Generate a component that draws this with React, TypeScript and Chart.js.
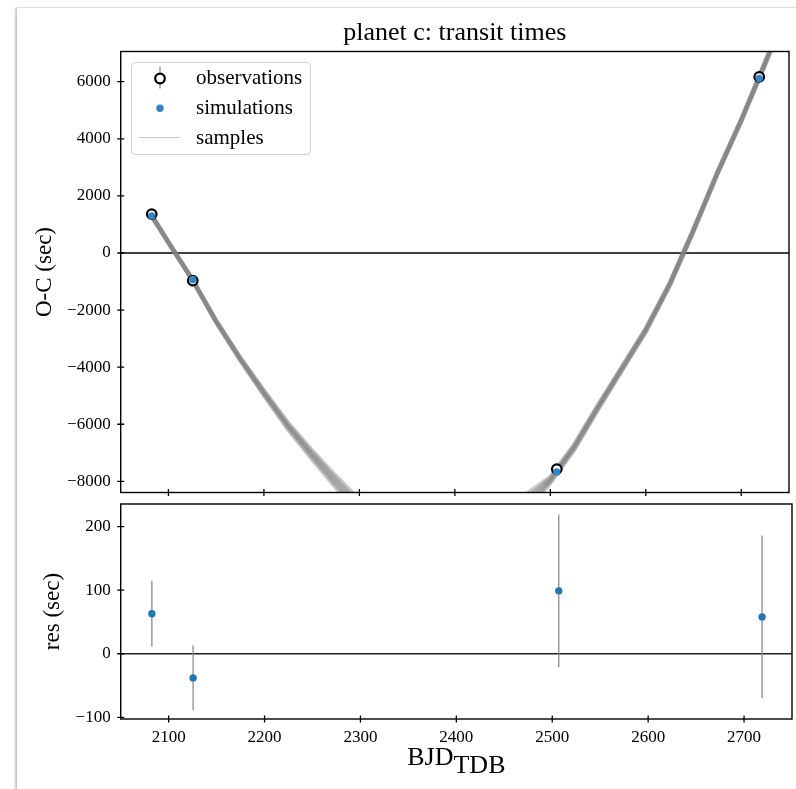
import React, { useEffect, useRef } from 'react';
import { Chart, registerables } from 'chart.js';

Chart.register(...registerables);

// ---- data ----
const TRANSIT_T = [2082.5, 2125.5, 2506.8, 2718.8];
const OBS_OC = [1363, -968, -7571, 6168];
const SIM_OC = [1300, -930, -7670, 6110];
const RESID = [63, -38, 99, 58];
const ERR = [52, 51, 120, 128];

const SAMPLE_T = [2082, 2100, 2125, 2150, 2175, 2200, 2225, 2250, 2275, 2300, 2325, 2350, 2375, 2400, 2425, 2450, 2475, 2500, 2525, 2550, 2575, 2600, 2625, 2650, 2675, 2700, 2725, 2750];
const SAMPLE_1 = [1330, 370, -930, -2400, -3700, -4900, -6050, -7050, -8000, -8900, -9700, -10400, -10900, -11100, -10800, -9900, -8750, -7950, -6800, -5400, -4050, -2700, -1100, 800, 2800, 4650, 6650, 8700];
const SAMPLE_2 = [1350, 385, -920, -2370, -3650, -4820, -5940, -6900, -7800, -8650, -9400, -10100, -10600, -10800, -10500, -9600, -8450, -7850, -6710, -5320, -3980, -2640, -1050, 840, 2840, 4690, 6700, 8760];
const SAMPLE_3 = [1310, 355, -940, -2430, -3750, -4980, -6160, -7200, -8200, -9150, -10000, -10700, -11200, -11400, -11100, -10200, -9050, -8050, -6890, -5480, -4120, -2760, -1150, 760, 2760, 4610, 6600, 8640];
const SAMPLE_4 = [1340, 378, -925, -2385, -3675, -4860, -5995, -6975, -7900, -8775, -9550, -10250, -10750, -10950, -10650, -9750, -8600, -7900, -6755, -5360, -4015, -2670, -1075, 820, 2820, 4670, 6675, 8730];
const SAMPLE_5 = [1320, 362, -935, -2415, -3725, -4940, -6105, -7125, -8100, -9025, -9850, -10550, -11050, -11250, -10950, -10050, -8900, -8000, -6845, -5440, -4085, -2730, -1125, 780, 2780, 4630, 6625, 8670];
const SAMPLES = [SAMPLE_1, SAMPLE_2, SAMPLE_3, SAMPLE_4, SAMPLE_5];

const X_TICKS = [2100, 2200, 2300, 2400, 2500, 2600, 2700];
const OC_TICKS = [-8000, -6000, -4000, -2000, 0, 2000, 4000, 6000];
const RES_TICKS = [-100, 0, 100, 200];

const X_MIN = 2050;
const X_MAX = 2750;
const OC_MIN = -8390;
const OC_MAX = 7058;
const RES_MIN = -102.7;
const RES_MAX = 235.7;

const TITLE = 'planet c: transit times';
const LEGEND_LABELS = ['observations', 'simulations', 'samples'];

// ---- styling ----
const FONT = "'Liberation Serif', 'Times New Roman', serif";
const BLUE = '#1f77b4';
const BLUE_TOP = '#3384c4';
const ERR_COLOR = '#8c8c8c';
const AXIS_LEFT = 120.7;
const PAD_RIGHT = 3.7;

const fmt = (v: number) => (v < 0 ? '\u2212' + Math.abs(v) : String(v));

const zeroPad = (s: any) => {
  s.paddingTop = 0;
  s.paddingBottom = 0;
  s.paddingLeft = 0;
  s.paddingRight = 0;
};

function drawFrameAndTicks(chart: any, yTicks: number[]) {
  const { ctx, chartArea: a, scales } = chart;
  ctx.save();
  ctx.strokeStyle = '#000';
  ctx.lineWidth = 1.4;
  ctx.strokeRect(a.left, a.top, a.right - a.left, a.bottom - a.top);
  ctx.lineWidth = 1.3;
  ctx.beginPath();
  for (const v of yTicks) {
    const y = scales.y.getPixelForValue(v);
    ctx.moveTo(a.left - 3.5, y);
    ctx.lineTo(a.left + 3.5, y);
  }
  for (const v of X_TICKS) {
    const x = scales.x.getPixelForValue(v);
    ctx.moveTo(x, a.bottom - 3.5);
    ctx.lineTo(x, a.bottom + 3.5);
  }
  ctx.stroke();
  ctx.restore();
}

function drawZero(chart: any, color: string, w: number) {
  const { ctx, chartArea: a, scales } = chart;
  const y = scales.y.getPixelForValue(0);
  ctx.save();
  ctx.strokeStyle = color;
  ctx.lineWidth = w;
  ctx.beginPath();
  ctx.moveTo(a.left, y);
  ctx.lineTo(a.right, y);
  ctx.stroke();
  ctx.restore();
}

function drawErrBars(chart: any, centers: number[]) {
  const { ctx, scales } = chart;
  ctx.save();
  ctx.strokeStyle = ERR_COLOR;
  ctx.lineWidth = 1.3;
  ctx.beginPath();
  TRANSIT_T.forEach((t, i) => {
    const x = scales.x.getPixelForValue(t);
    ctx.moveTo(x, scales.y.getPixelForValue(centers[i] + ERR[i]));
    ctx.lineTo(x, scales.y.getPixelForValue(centers[i] - ERR[i]));
  });
  ctx.stroke();
  ctx.restore();
}

function drawYTitle(ctx: CanvasRenderingContext2D, text: string, x: number, y: number) {
  ctx.save();
  ctx.translate(x, y);
  ctx.rotate(-Math.PI / 2);
  ctx.font = `23px ${FONT}`;
  ctx.fillStyle = '#000';
  ctx.textAlign = 'center';
  ctx.textBaseline = 'alphabetic';
  ctx.fillText(text, 0, 0);
  ctx.restore();
}

const topPlugin = {
  id: 'topDecor',
  beforeDatasetsDraw(chart: any) {
    drawZero(chart, '#000', 1.5);
    drawErrBars(chart, OBS_OC);
  },
  afterDraw(chart: any) {
    const { ctx, chartArea: a } = chart;
    drawFrameAndTicks(chart, OC_TICKS);
    // title
    ctx.save();
    ctx.font = `26px ${FONT}`;
    ctx.fillStyle = '#000';
    ctx.textAlign = 'center';
    ctx.textBaseline = 'alphabetic';
    ctx.fillText(TITLE, (a.left + a.right) / 2, 40);
    ctx.restore();
    drawYTitle(ctx, 'O-C (sec)', 51, (a.top + a.bottom) / 2);
    // legend
    ctx.save();
    const bx = 131.5, by = 62.5, bw = 179, bh = 92, r = 4;
    ctx.beginPath();
    ctx.moveTo(bx + r, by);
    ctx.lineTo(bx + bw - r, by);
    ctx.arcTo(bx + bw, by, bx + bw, by + r, r);
    ctx.lineTo(bx + bw, by + bh - r);
    ctx.arcTo(bx + bw, by + bh, bx + bw - r, by + bh, r);
    ctx.lineTo(bx + r, by + bh);
    ctx.arcTo(bx, by + bh, bx, by + bh - r, r);
    ctx.lineTo(bx, by + r);
    ctx.arcTo(bx, by, bx + r, by, r);
    ctx.closePath();
    ctx.fillStyle = 'rgba(255,255,255,0.85)';
    ctx.fill();
    ctx.strokeStyle = '#d0d0d0';
    ctx.lineWidth = 1;
    ctx.stroke();
    // observations handle
    ctx.strokeStyle = ERR_COLOR;
    ctx.lineWidth = 1.3;
    ctx.beginPath();
    ctx.moveTo(160, 66.7);
    ctx.lineTo(160, 88.5);
    ctx.stroke();
    ctx.beginPath();
    ctx.arc(160, 78.5, 4.8, 0, Math.PI * 2);
    ctx.fillStyle = '#fff';
    ctx.fill();
    ctx.strokeStyle = '#000';
    ctx.lineWidth = 2.2;
    ctx.stroke();
    // simulations handle
    ctx.beginPath();
    ctx.arc(160, 108.3, 3.7, 0, Math.PI * 2);
    ctx.fillStyle = BLUE_TOP;
    ctx.fill();
    // samples handle
    ctx.strokeStyle = '#c8c8c8';
    ctx.lineWidth = 1;
    ctx.beginPath();
    ctx.moveTo(139, 137.5);
    ctx.lineTo(180, 137.5);
    ctx.stroke();
    ctx.font = `21px ${FONT}`;
    ctx.fillStyle = '#000';
    ctx.textAlign = 'left';
    ctx.textBaseline = 'alphabetic';
    ctx.fillText(LEGEND_LABELS[0], 196, 84);
    ctx.fillText(LEGEND_LABELS[1], 196, 114);
    ctx.fillText(LEGEND_LABELS[2], 196, 143.5);
    ctx.restore();
  },
};

const botPlugin = {
  id: 'botDecor',
  beforeDatasetsDraw(chart: any) {
    drawZero(chart, '#222', 1.5);
    drawErrBars(chart, RESID);
  },
  afterDraw(chart: any) {
    const { ctx, chartArea: a } = chart;
    drawFrameAndTicks(chart, RES_TICKS);
    drawYTitle(ctx, 'res (sec)', 59.3, (a.top + a.bottom) / 2);
    // x title with subscript
    ctx.save();
    ctx.font = `26px ${FONT}`;
    ctx.fillStyle = '#000';
    ctx.textBaseline = 'alphabetic';
    ctx.textAlign = 'left';
    const main = 'BJD';
    const sub = 'TDB';
    const w1 = ctx.measureText(main).width;
    const w2 = ctx.measureText(sub).width;
    const cx = (a.left + a.right) / 2;
    const x0 = cx - (w1 + w2) / 2;
    ctx.fillText(main, x0, 265);
    ctx.fillText(sub, x0 + w1, 273);
    ctx.restore();
  },
};

const baseOptions = {
  responsive: false,
  animation: false as const,
  devicePixelRatio: 1,
  events: [] as any[],
};

function topConfig(): any {
  return {
    type: 'scatter',
    data: {
      datasets: [
        {
          label: 'simulations',
          data: TRANSIT_T.map((x, i) => ({ x, y: SIM_OC[i] })),
          pointRadius: 3.7,
          pointBackgroundColor: BLUE_TOP,
          pointBorderWidth: 0,
          order: 0,
        },
        {
          label: 'observations',
          data: TRANSIT_T.map((x, i) => ({ x, y: OBS_OC[i] })),
          pointRadius: 4.8,
          pointBorderWidth: 2.2,
          pointBorderColor: '#000',
          pointBackgroundColor: '#fff',
          order: 1,
        },
        ...SAMPLES.map((s) => ({
          label: 'samples',
          data: SAMPLE_T.map((x, i) => ({ x, y: s[i] })),
          showLine: true,
          pointRadius: 0,
          borderWidth: 4.5,
          borderColor: 'rgba(128,128,128,0.42)',
          tension: 0,
          clip: 0,
          order: 2,
        })),
      ],
    },
    options: {
      ...baseOptions,
      layout: { padding: { left: 0, right: PAD_RIGHT, top: 51.5, bottom: 7.5 } },
      plugins: { legend: { display: false }, tooltip: { enabled: false }, title: { display: false } },
      scales: {
        x: {
          type: 'linear',
          min: X_MIN,
          max: X_MAX,
          grid: { display: false, drawTicks: false },
          border: { display: false },
          ticks: { display: false },
          afterFit: (s: any) => {
            s.height = 0;
            zeroPad(s);
          },
        },
        y: {
          type: 'linear',
          min: OC_MIN,
          max: OC_MAX,
          grid: { display: false, drawTicks: false },
          border: { display: false },
          ticks: {
            padding: 10,
            color: '#000',
            font: { family: FONT, size: 17 },
            callback: (v: number) => fmt(v),
          },
          afterBuildTicks: (s: any) => {
            s.ticks = OC_TICKS.map((v) => ({ value: v }));
          },
          afterFit: (s: any) => {
            s.width = AXIS_LEFT;
            zeroPad(s);
          },
        },
      },
    },
    plugins: [topPlugin],
  };
}

function botConfig(): any {
  return {
    type: 'scatter',
    data: {
      datasets: [
        {
          label: 'residuals',
          data: TRANSIT_T.map((x, i) => ({ x, y: RESID[i] })),
          pointRadius: 3.7,
          pointBackgroundColor: BLUE,
          pointBorderWidth: 0,
        },
      ],
    },
    options: {
      ...baseOptions,
      layout: { padding: { left: 0, right: PAD_RIGHT, top: 4, bottom: 0 } },
      plugins: { legend: { display: false }, tooltip: { enabled: false } },
      scales: {
        x: {
          type: 'linear',
          min: X_MIN,
          max: X_MAX,
          grid: { display: false, drawTicks: false },
          border: { display: false },
          ticks: {
            padding: 8.5,
            color: '#000',
            maxRotation: 0,
            autoSkip: false,
            font: { family: FONT, size: 17 },
            callback: (v: number) => String(v),
          },
          afterBuildTicks: (s: any) => {
            s.ticks = X_TICKS.map((v) => ({ value: v }));
          },
          afterFit: (s: any) => {
            s.height = 70;
            zeroPad(s);
          },
        },
        y: {
          type: 'linear',
          min: RES_MIN,
          max: RES_MAX,
          grid: { display: false, drawTicks: false },
          border: { display: false },
          ticks: {
            padding: 10,
            color: '#000',
            font: { family: FONT, size: 17 },
            callback: (v: number) => fmt(v),
          },
          afterBuildTicks: (s: any) => {
            s.ticks = RES_TICKS.map((v) => ({ value: v }));
          },
          afterFit: (s: any) => {
            s.width = AXIS_LEFT;
            zeroPad(s);
          },
        },
      },
    },
    plugins: [botPlugin],
  };
}

export default function App() {
  const topRef = useRef<HTMLCanvasElement>(null);
  const botRef = useRef<HTMLCanvasElement>(null);

  useEffect(() => {
    const top = new Chart(topRef.current as HTMLCanvasElement, topConfig());
    const bot = new Chart(botRef.current as HTMLCanvasElement, botConfig());
    return () => {
      top.destroy();
      bot.destroy();
    };
  }, []);

  return (
    <div
      style={{
        position: 'absolute',
        left: 0,
        top: 0,
        width: 796,
        height: 789,
        overflow: 'hidden',
        background: '#fff',
      }}
    >
      <div
        style={{
          position: 'absolute',
          left: 17,
          top: 8,
          width: 820,
          height: 820,
          background: '#fff',
          boxShadow: '-2px 0 2px rgba(0,0,0,0.22), 0 -1px 1px rgba(0,0,0,0.06)',
        }}
      />
      <canvas
        ref={topRef}
        width={796}
        height={500}
        style={{ position: 'absolute', left: 0, top: 0, width: 796, height: 500 }}
      />
      <canvas
        ref={botRef}
        width={796}
        height={289}
        style={{ position: 'absolute', left: 0, top: 500, width: 796, height: 289 }}
      />
    </div>
  );
}
